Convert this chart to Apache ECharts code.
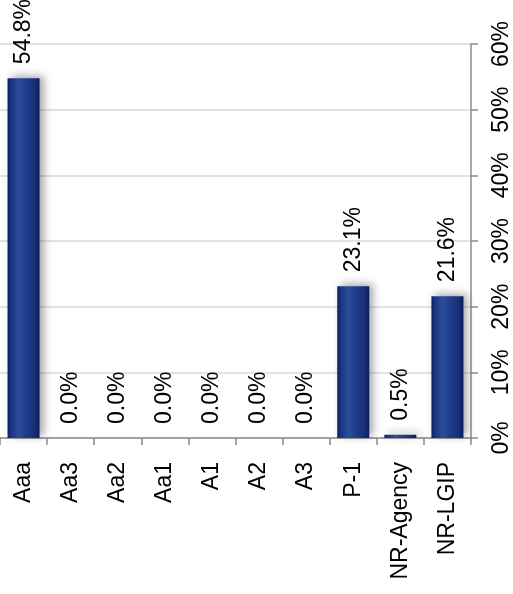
<!DOCTYPE html>
<html>
<head>
<meta charset="utf-8">
<script src="https://cdn.jsdelivr.net/npm/echarts@6/dist/echarts.min.js"></script>
<style>
  html, body { margin: 0; padding: 0; background: #ffffff; }
  #chart { width: 513px; height: 594px; }
</style>
</head>
<body>
<div id="chart"></div>
<script>
// Rating categories and the share of the portfolio in each (percent)
const ratings = ['Aaa', 'Aa3', 'Aa2', 'Aa1', 'A1', 'A2', 'A3', 'P-1', 'NR-Agency', 'NR-LGIP'];
const shares = [54.8, 0.0, 0.0, 0.0, 0.0, 0.0, 0.0, 23.1, 0.5, 21.6];
const axisMax = 60;
const axisStep = 10;

const FONT = 'Liberation Sans';
const FONT_SIZE = 23;
const chart = echarts.init(document.getElementById('chart'), null, { renderer: 'canvas' });

// Bevelled navy bar face
const barFill = new echarts.graphic.LinearGradient(0, 0, 1, 0, [
  { offset: 0, color: '#0d1f5c' },
  { offset: 0.12, color: '#1a3684' },
  { offset: 0.35, color: '#2c4c9c' },
  { offset: 0.55, color: '#213f8f' },
  { offset: 0.85, color: '#172f78' },
  { offset: 1, color: '#0c1c55' }
]);

chart.setOption({
  backgroundColor: '#ffffff',
  animation: false,
  grid: { left: 0, right: 41, top: 44, bottom: 156, containLabel: false },
  xAxis: {
    type: 'category',
    data: ratings,
    axisLine: { show: true, lineStyle: { color: '#8c8c8c', width: 1.5 } },
    axisTick: { show: true, length: 7, lineStyle: { color: '#8c8c8c', width: 1.5 } },
    axisLabel: {
      rotate: 90,
      margin: 24,
      color: '#000000',
      fontFamily: FONT,
      fontSize: FONT_SIZE
    }
  },
  yAxis: {
    type: 'value',
    position: 'right',
    min: 0,
    max: axisMax,
    interval: axisStep,
    axisLine: { show: true, lineStyle: { color: '#8c8c8c', width: 1.5 } },
    axisTick: { show: true, inside: false, length: 7, lineStyle: { color: '#8c8c8c', width: 1.5 } },
    splitLine: { show: true, lineStyle: { color: '#d9d9d9', width: 1.5 } },
    axisLabel: {
      rotate: 90,
      margin: 19,
      color: '#000000',
      fontFamily: FONT,
      fontSize: FONT_SIZE,
      formatter: '{value}%'
    }
  },
  series: [{
    type: 'bar',
    data: shares,
    barWidth: 32,
    itemStyle: {
      color: barFill,
      shadowColor: 'rgba(0,0,0,0.35)',
      shadowBlur: 8,
      shadowOffsetX: 4,
      shadowOffsetY: -2
    },
    label: {
      show: true,
      position: 'top',
      distance: 14,
      rotate: 90,
      align: 'left',
      verticalAlign: 'middle',
      color: '#000000',
      fontFamily: FONT,
      fontSize: FONT_SIZE,
      formatter: p => p.value.toFixed(1) + '%'
    }
  }]
});
</script>
</body>
</html>
